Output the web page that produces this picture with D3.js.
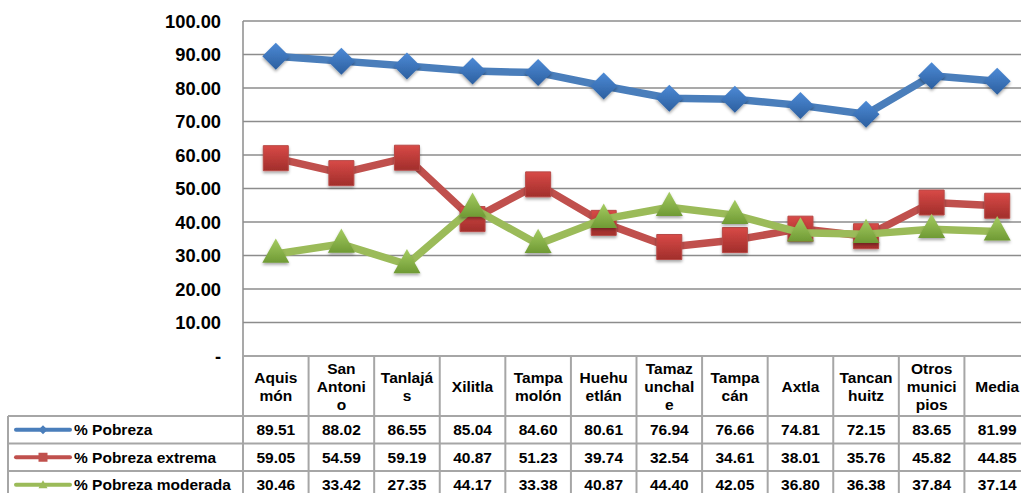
<!DOCTYPE html>
<html>
<head>
<meta charset="utf-8">
<script src="https://cdn.jsdelivr.net/npm/d3@7"></script>
<style>
  body { margin: 0; background: #fff; overflow: hidden; }
  svg { display: block; font-family: "Liberation Sans", Arial, sans-serif; font-weight: bold; }
</style>
</head>
<body>
<div id="container"></div>
<script>
// datos
var municipios = [
    ["Aquis", "món"], ["San", "Antoni", "o"], ["Tanlajá", "s"], ["Xilitla"],
    ["Tampa", "molón"], ["Huehu", "etlán"], ["Tamaz", "unchal", "e"], ["Tampa", "cán"],
    ["Axtla"], ["Tancan", "huitz"], ["Otros", "munici", "pios"], ["Media"]
];
var pobreza = [89.51, 88.02, 86.55, 85.04, 84.60, 80.61, 76.94, 76.66, 74.81, 72.15, 83.65, 81.99];
var pobrezaExtrema = [59.05, 54.59, 59.19, 40.87, 51.23, 39.74, 32.54, 34.61, 38.01, 35.76, 45.82, 44.85];
var pobrezaModerada = [30.46, 33.42, 27.35, 44.17, 33.38, 40.87, 44.40, 42.05, 36.80, 36.38, 37.84, 37.14];
var yTicks = [0, 10, 20, 30, 40, 50, 60, 70, 80, 90, 100];

var series = [
    { name: "% Pobreza", values: pobreza, color: "#4a7ebb", top: "#4d8ad6", bottom: "#2c5f9f", shape: "diamond" },
    { name: "% Pobreza extrema", values: pobrezaExtrema, color: "#c0504d", top: "#d84a47", bottom: "#a12e2b", shape: "square" },
    { name: "% Pobreza moderada", values: pobrezaModerada, color: "#9bbb59", top: "#a5cc62", bottom: "#6f9a34", shape: "triangle" }
];

var width = 1021,
    height = 493;
// el grafico original sale recortado por la derecha
var plotLeft = 243, plotRight = 1030, plotTop = 21, plotBottom = 356;
var headerBottom = 416, rowH = 27.5;

var svg = d3.select("#container").append("svg")
    .attr("width", width)
    .attr("height", height);

var defs = svg.append("defs");
series.forEach(function (s, i) {
    var gr = defs.append("linearGradient")
        .attr("id", "grad" + i)
        .attr("x1", 0).attr("y1", 0).attr("x2", 0).attr("y2", 1);
    gr.append("stop").attr("offset", "0%").attr("stop-color", s.top);
    gr.append("stop").attr("offset", "100%").attr("stop-color", s.bottom);
});
var shadow = defs.append("filter").attr("id", "shadow")
    .attr("x", "-50%").attr("y", "-50%").attr("width", "200%").attr("height", "200%");
shadow.append("feDropShadow")
    .attr("dx", 0).attr("dy", 2).attr("stdDeviation", 1.5)
    .attr("flood-color", "#000").attr("flood-opacity", 0.35);

var x = d3.scaleBand()
    .domain(d3.range(municipios.length))
    .range([plotLeft, plotRight]);
var y = d3.scaleLinear()
    .domain([0, 100])
    .range([plotBottom, plotTop]);

// rejilla
svg.append("g").selectAll("line").data(yTicks.filter(function (d) { return d > 0; }))
    .enter().append("line")
    .attr("x1", plotLeft).attr("x2", plotRight)
    .attr("y1", function (d) { return y(d); })
    .attr("y2", function (d) { return y(d); })
    .attr("stroke", "#8c8c8c")
    .attr("stroke-width", 1.5);

svg.append("line")
    .attr("x1", plotLeft).attr("x2", plotLeft)
    .attr("y1", plotTop).attr("y2", plotBottom)
    .attr("stroke", "#8c8c8c").attr("stroke-width", 1.5);

// eje y
svg.append("g").selectAll("text").data(yTicks)
    .enter().append("text")
    .attr("x", 221)
    .attr("y", function (d) { return y(d); })
    .attr("dy", "0.36em")
    .attr("text-anchor", "end")
    .attr("font-size", 18.3)
    .attr("fill", "#000")
    .text(function (d) { return d === 0 ? "-" : d.toFixed(2); });

// tabla
var tableColor = "#a6a6a6";
var table = svg.append("g");
var lastRowBottom = headerBottom + rowH * 3;
table.append("line")
    .attr("x1", plotLeft).attr("x2", plotRight)
    .attr("y1", plotBottom).attr("y2", plotBottom)
    .attr("stroke", tableColor).attr("stroke-width", 2);
[0, 1, 2].forEach(function (r) {
    table.append("line")
        .attr("x1", 8).attr("x2", plotRight)
        .attr("y1", headerBottom + rowH * r).attr("y2", headerBottom + rowH * r)
        .attr("stroke", tableColor).attr("stroke-width", 2);
});
table.selectAll(".vline").data(d3.range(municipios.length))
    .enter().append("line")
    .attr("class", "vline")
    .attr("x1", function (d) { return x(d); })
    .attr("x2", function (d) { return x(d); })
    .attr("y1", plotBottom).attr("y2", lastRowBottom)
    .attr("stroke", tableColor).attr("stroke-width", 2);
table.append("line")
    .attr("x1", 8).attr("x2", 8)
    .attr("y1", headerBottom).attr("y2", lastRowBottom)
    .attr("stroke", tableColor).attr("stroke-width", 2);

// encabezados
var headers = table.selectAll(".hdr").data(municipios)
    .enter().append("text")
    .attr("class", "hdr")
    .attr("text-anchor", "middle")
    .attr("font-size", 15.5)
    .attr("fill", "#000");
headers.each(function (lines, i) {
    var t = d3.select(this);
    var cy = (plotBottom + headerBottom) / 2;
    var lh = 18;
    var start = cy - (lines.length - 1) * lh / 2;
    lines.forEach(function (l, k) {
        t.append("tspan")
            .attr("x", x(i) + x.bandwidth() / 2)
            .attr("y", start + k * lh)
            .attr("dy", "0.36em")
            .text(l);
    });
});

// valores y leyenda
series.forEach(function (s, r) {
    var cy = headerBottom + rowH * r + rowH / 2;
    table.append("g").selectAll("text").data(s.values)
        .enter().append("text")
        .attr("x", function (d, i) { return x(i) + x.bandwidth() / 2; })
        .attr("y", cy)
        .attr("dy", "0.36em")
        .attr("text-anchor", "middle")
        .attr("font-size", 15.5)
        .attr("fill", "#000")
        .text(function (d) { return d.toFixed(2); });

    table.append("line")
        .attr("x1", 16).attr("x2", 70)
        .attr("y1", cy).attr("y2", cy)
        .attr("stroke", s.color).attr("stroke-width", 4)
        .attr("stroke-linecap", "round");
    table.append("path")
        .attr("d", markerPath(s.shape, 9))
        .attr("transform", "translate(43," + cy + ")")
        .attr("fill", s.color);
    table.append("text")
        .attr("x", 74).attr("y", cy)
        .attr("dy", "0.36em")
        .attr("font-size", 15.5)
        .attr("fill", "#000")
        .text(s.name);
});

function markerPath(shape, size) {
    var h = size / 2;
    if (shape === "diamond") {
        return "M0," + (-h) + "L" + h + ",0L0," + h + "L" + (-h) + ",0Z";
    } else if (shape === "square") {
        return "M" + (-h) + "," + (-h) + "H" + h + "V" + h + "H" + (-h) + "Z";
    }
    return "M0," + (-h) + "L" + h + "," + (h * 0.8) + "H" + (-h) + "Z";
}

// series
var line = d3.line()
    .x(function (d, i) { return x(i) + x.bandwidth() / 2; })
    .y(function (d) { return y(d); });

series.forEach(function (s, k) {
    var g = svg.append("g");
    g.append("path")
        .datum(s.values)
        .attr("d", line)
        .attr("fill", "none")
        .attr("stroke", s.color)
        .attr("stroke-width", 7.5)
        .attr("stroke-linejoin", "round");
    g.selectAll(".marker").data(s.values)
        .enter().append("path")
        .attr("class", "marker")
        .attr("d", markerPath(s.shape, s.shape === "square" ? 25 : 27))
        .attr("transform", function (d, i) {
            var dy = s.shape === "triangle" ? -2 : 0;
            return "translate(" + (x(i) + x.bandwidth() / 2) + "," + (y(d) + dy) + ")";
        })
        .attr("fill", "url(#grad" + k + ")")
        .attr("stroke", s.shape === "square" ? "#b84a47" : "none")
        .attr("stroke-width", 1)
        .attr("filter", "url(#shadow)");
});
</script>
</body>
</html>
